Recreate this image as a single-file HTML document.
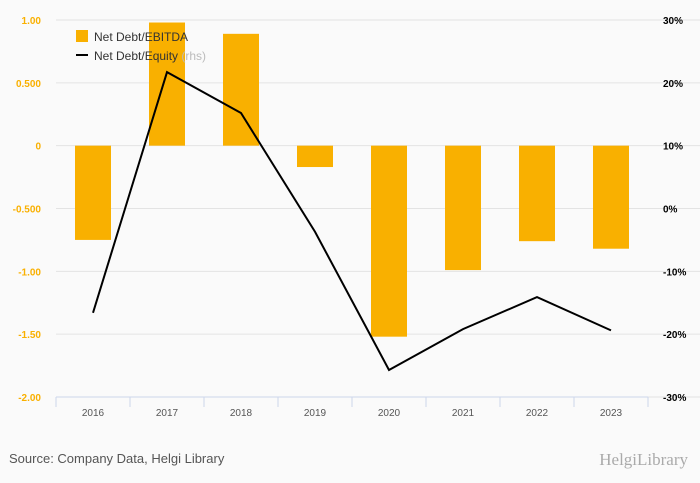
<!DOCTYPE html>
<html><head><meta charset="utf-8"><style>
body{margin:0;background:#fafafa;font-family:"Liberation Sans",sans-serif}
svg{display:block}
</style></head><body>
<svg id="c" width="700" height="483" viewBox="0 0 700 483">
<rect width="700" height="483" fill="#fafafa"/>
<g id="grid"></g><g id="bars"></g><g id="line"></g><g id="axes"></g>
<g>
<rect x="76" y="30" width="12" height="12" fill="#f9b000"/>
<text x="94" y="41" font-size="12" fill="#333">Net Debt/EBITDA</text>
<line x1="76" y1="55" x2="88" y2="55" stroke="#000" stroke-width="2"/>
<text x="94" y="60" font-size="12" fill="#333">Net Debt/Equity <tspan fill="#bbb">(rhs)</tspan></text>
</g>
<text x="9" y="463" font-size="13" fill="#555">Source: Company Data, Helgi Library</text>
<text x="688" y="465" font-size="17" fill="#aaa" text-anchor="end" font-family="Liberation Serif,serif">HelgiLibrary</text>
</svg>
<script>
const categories=["2016","2017","2018","2019","2020","2021","2022","2023"];
const ebitda=[-0.75,0.98,0.89,-0.17,-1.52,-0.99,-0.76,-0.82];
const equity=[-16.6,21.7,15.2,-3.7,-25.7,-19.2,-14.1,-19.4];
const leftTicks=[1,0.5,0,-0.5,-1,-1.5,-2];
const leftLabels=["1.00","0.500","0","-0.500","-1.00","-1.50","-2.00"];
const rightTicks=[30,20,10,0,-10,-20,-30];
const NS="http://www.w3.org/2000/svg";
const X0=56,X1=648,T=20,B=397;
const bw=(X1-X0)/categories.length;
const yL=v=>T+(1-v)/3*(B-T);
const yR=v=>T+(30-v)/60*(B-T);
const xC=i=>X0+bw*(i+0.5);
function mk(p,tag,a){const e=document.createElementNS(NS,tag);for(const k in a)e.setAttribute(k,a[k]);document.getElementById(p).appendChild(e);return e;}
leftTicks.forEach((v,i)=>{
 const g=mk("grid","line",{x1:X0,x2:700,y1:yL(v),y2:yL(v),stroke:"#e3e3e3"});
 
 
 const t=mk("axes","text",{x:41,y:yL(v)+4,"font-size":10,fill:"#f9b000","text-anchor":"end","font-weight":"bold"});
 t.textContent=leftLabels[i];
 
 
});
rightTicks.forEach(v=>{
 const t=mk("axes","text",{x:663,y:yR(v)+4,"font-size":10,fill:"#000","font-weight":"bold"});
 t.textContent=v+"%";
 
 
});
const ax=mk("axes","line",{x1:X0,x2:X1,y1:B,y2:B,stroke:"#ccd6eb"});


categories.forEach((c,i)=>{
 const tk=mk("axes","line",{x1:X0+bw*i,x2:X0+bw*i,y1:B,y2:B+10,stroke:"#ccd6eb"});
 
 
 const t=mk("axes","text",{x:xC(i),y:B+19,"font-size":10,fill:"#555","text-anchor":"middle"});
 t.textContent=c;
 
 
 const v=ebitda[i],y0=yL(0),y1=yL(v);
 const r=mk("bars","rect",{x:xC(i)-18,width:36,y:Math.min(y0,y1),height:Math.abs(y1-y0),fill:"#f9b000"});
 
 
});
const tk=mk("axes","line",{x1:X1,x2:X1,y1:B,y2:B+10,stroke:"#ccd6eb"});


const pl=mk("line","polyline",{points:equity.map((v,i)=>xC(i)+","+yR(v)).join(" "),fill:"none",stroke:"#000","stroke-width":2});


</script>
</body></html>
